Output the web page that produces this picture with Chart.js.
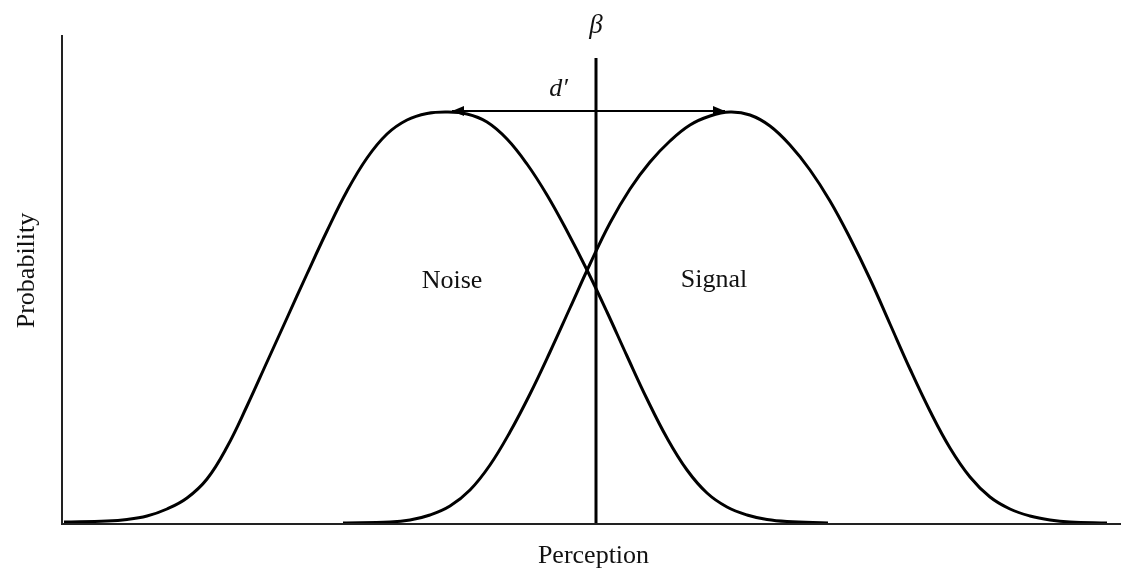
<!DOCTYPE html>
<html>
<head>
<meta charset="utf-8">
<script src="https://cdn.jsdelivr.net/npm/chart.js@4.4.0/dist/chart.umd.min.js"></script>
<style>
  html, body { margin: 0; padding: 0; background: #fff; }
  #wrap { width: 1121px; height: 572px; position: relative; }
</style>
</head>
<body>
<div id="wrap"><canvas id="sdt"></canvas></div>
<script>
// ── Signal detection curves (perception 0–105.9, probability 0–97.8, arbitrary units) ──
const noiseX  = [0.2, 4.5, 6.5, 8.5, 10.5, 12.5, 14.5, 16.5, 18.5, 20.5, 22.5, 24.5, 26.5, 28.5, 30.5, 32.5, 34.5, 36.5, 38.5,
                 40.5, 42.5, 44.5, 46.5, 48.5, 50.5, 52.5, 54.5, 56.5, 58.5, 60.5, 62.5, 64.5, 66.5, 68.5, 70.5, 72.5, 76.6];
const noiseY  = [0.4, 0.6, 0.9, 1.6, 3.0, 5.2, 9.0, 15.4, 23.6, 32.4, 41.2, 50.0, 58.6, 66.6, 73.2, 78.0, 80.8, 82.1, 82.4,
                 82.0, 80.4, 77.0, 72.0, 65.8, 58.6, 50.8, 42.4, 33.6, 25.0, 17.2, 10.8, 6.2, 3.4, 1.8, 0.9, 0.5, 0.2];
const signalX = [28.1, 32.8, 34.8, 36.8, 38.8, 40.8, 42.8, 44.8, 46.8, 48.8, 50.8, 52.8, 54.8, 56.8, 58.8, 60.8, 62.8, 64.8, 66.8,
                 68.8, 70.8, 72.8, 74.8, 76.8, 78.8, 80.8, 82.8, 84.8, 86.8, 88.8, 90.8, 92.8, 94.8, 96.8, 98.8, 100.8, 104.5];
const signalY = [0.2, 0.4, 0.8, 1.8, 3.6, 6.8, 11.8, 18.4, 26.0, 34.4, 43.2, 52.0, 60.2, 67.0, 72.4, 76.6, 79.8, 81.6, 82.4,
                 81.8, 79.6, 75.8, 70.8, 64.6, 57.2, 49.0, 40.0, 31.0, 22.6, 15.2, 9.4, 5.4, 3.0, 1.6, 0.8, 0.4, 0.2];

// criterion (beta) and sensitivity (d') markers
const betaX = 53.4, betaTop = 93.2;
const dPrimeFrom = 39.0, dPrimeTo = 66.3, dPrimeY = 82.6;

// labels
const labels = [
  { text: 'Noise',  x: 39.0, y: 48.6 },
  { text: 'Signal', x: 65.2, y: 48.8 },
];
const xTitle = 'Perception';
const yTitle = 'Probability';

const zip = (xs, ys) => xs.map((x, i) => ({ x, y: ys[i] }));
const SERIF = '"Liberation Serif", "DejaVu Serif", serif';

// ── Axes, arrowheads and text ──
const overlay = {
  id: 'overlay',
  afterDatasetsDraw(chart) {
    const { ctx, scales: { x, y } } = chart;
    const x0 = x.left, y0 = y.bottom;
    ctx.save();
    ctx.strokeStyle = '#222';
    ctx.lineWidth = 2;
    ctx.beginPath();
    ctx.moveTo(x0, y.top);
    ctx.lineTo(x0, y0);
    ctx.lineTo(x.right, y0);
    ctx.stroke();

    // d' arrowheads
    const ay = y.getPixelForValue(dPrimeY);
    ctx.fillStyle = '#000';
    [[x.getPixelForValue(dPrimeFrom), 1], [x.getPixelForValue(dPrimeTo), -1]].forEach(([px, dir]) => {
      ctx.beginPath();
      ctx.moveTo(px, ay);
      ctx.lineTo(px + dir * 12, ay - 5);
      ctx.lineTo(px + dir * 12, ay + 5);
      ctx.closePath();
      ctx.fill();
    });

    ctx.fillStyle = '#111';
    ctx.textAlign = 'center';
    ctx.textBaseline = 'middle';
    ctx.font = '26px ' + SERIF;
    labels.forEach(l => ctx.fillText(l.text, x.getPixelForValue(l.x), y.getPixelForValue(l.y)));
    ctx.fillText(xTitle, (x.left + x.right) / 2 + 2, y0 + 32);

    ctx.font = 'italic 27px ' + SERIF;
    ctx.fillText('β', x.getPixelForValue(betaX), y.getPixelForValue(betaTop) - 32);
    ctx.font = 'italic 26px ' + SERIF;
    ctx.fillText('d′', x.getPixelForValue((dPrimeFrom + dPrimeTo) / 2) - 30, ay - 22);

    ctx.translate(27, (y.top + y0) / 2 - 9);
    ctx.rotate(-Math.PI / 2);
    ctx.font = '26px ' + SERIF;
    ctx.fillText(yTitle, 0, 0);
    ctx.restore();
  }
};

const curve = { borderColor: '#000', borderWidth: 3, pointRadius: 0, showLine: true, fill: false, tension: 0.4 };
const straight = { borderColor: '#000', pointRadius: 0, showLine: true, fill: false, tension: 0 };

new Chart(document.getElementById('sdt'), {
  type: 'scatter',
  data: {
    datasets: [
      { label: 'Noise',  data: zip(noiseX, noiseY), ...curve },
      { label: 'Signal', data: zip(signalX, signalY), ...curve },
      { label: 'β', data: [{ x: betaX, y: 0 }, { x: betaX, y: betaTop }], ...straight, borderWidth: 3 },
      { label: "d'", data: [{ x: dPrimeFrom, y: dPrimeY }, { x: dPrimeTo, y: dPrimeY }], ...straight, borderWidth: 2 },
    ]
  },
  options: {
    responsive: true, maintainAspectRatio: false, animation: false,
    layout: { padding: { left: 62, right: 0, top: 35, bottom: 48 } },
    plugins: { legend: { display: false }, tooltip: { enabled: false } },
    scales: {
      x: { type: 'linear', min: 0, max: 105.9, display: false },
      y: { type: 'linear', min: 0, max: 97.8, display: false }
    }
  },
  plugins: [overlay]
});
</script>
</body>
</html>
